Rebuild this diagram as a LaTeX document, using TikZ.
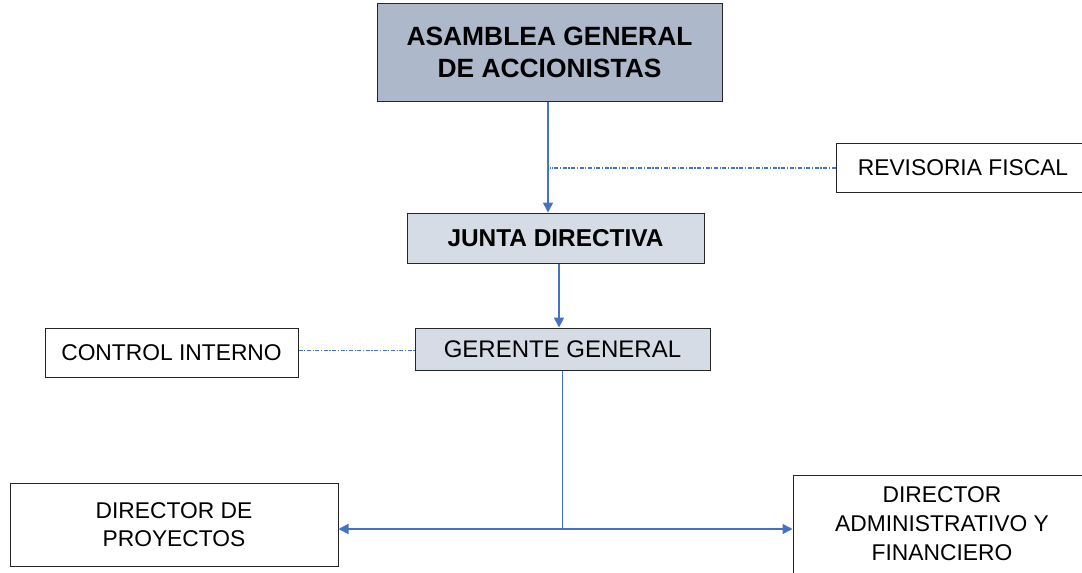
\documentclass[tikz,border=0pt]{standalone}
\usepackage{fontspec}
\setmainfont{Liberation Sans}
\usetikzlibrary{arrows.meta}
\definecolor{linea}{HTML}{4472C4}
\definecolor{azuloscuro}{HTML}{ADB9CA}
\definecolor{azulclaro}{HTML}{D6DCE5}
\definecolor{borde}{HTML}{262626}
\tikzset{
  caja/.style={draw=borde, line width=0.5pt, inner sep=0pt, align=center, font=\fontsize{11.4}{14}\selectfont},
  flecha/.style={draw=linea, line width=0.8pt, -{Triangle[length=5pt,width=5pt]}},
  enlace/.style={draw=linea, line width=0.6pt, dash pattern=on 2pt off 0.8pt on 0.6pt off 0.8pt},
}
\begin{document}
\begin{tikzpicture}[x=0.5pt, y=-0.5pt]
    \clip (0,0) rectangle (1082,573);
    \fill[white] (0,0) rectangle (1082,573);

    \node[caja, fill=azuloscuro, minimum width=172.5pt, minimum height=49pt, font=\fontsize{13.2}{16}\selectfont\bfseries] (asamblea) at (549.5,52) {ASAMBLEA GENERAL\\DE ACCIONISTAS};
    \node[caja, minimum width=127pt, minimum height=24.5pt] (revisoria) at (963,167.5) {REVISORIA FISCAL};
    \node[caja, fill=azulclaro, minimum width=148.5pt, minimum height=25pt, font=\fontsize{12.2}{14}\selectfont\bfseries] (junta) at (555.5,238) {JUNTA DIRECTIVA};
    \node[caja, fill=azulclaro, minimum width=147.5pt, minimum height=21pt, font=\fontsize{12}{14}\selectfont] (gerente) at (562.5,349) {GERENTE GENERAL};
    \node[caja, minimum width=126.5pt, minimum height=24.5pt] (control) at (171.5,352.5) {CONTROL INTERNO};
    \node[caja, minimum width=164pt, minimum height=41.5pt] (proyectos) at (174,524.5) {DIRECTOR DE\\PROYECTOS};
    \node[caja, minimum width=149pt, minimum height=49pt, font=\fontsize{11.4}{14.5}\selectfont] (admin) at (942,524) {DIRECTOR\\ADMINISTRATIVO Y\\FINANCIERO};

    \draw[flecha] ([xshift=-0.75pt]asamblea.south) -- ([xshift=-0.75pt]asamblea.south |- junta.north);
    \draw[enlace] ([yshift=-0.25pt]revisoria.west) -- ([yshift=-0.25pt]revisoria.west -| asamblea.south);
    \draw[flecha] ([xshift=1.75pt]junta.south) -- ([xshift=1.75pt]junta.south |- gerente.north);
    \draw[enlace] ([yshift=1pt]control.east) -- ([yshift=1pt]control.east -| gerente.west);

    \coordinate (reparto) at (gerente.south |- 0,529);
    \draw[linea, line width=0.6pt] (gerente.south) -- (reparto);
    \draw[flecha] (reparto) -- (reparto -| proyectos.east);
    \draw[flecha] (reparto) -- (reparto -| admin.west);
\end{tikzpicture}
\end{document}
